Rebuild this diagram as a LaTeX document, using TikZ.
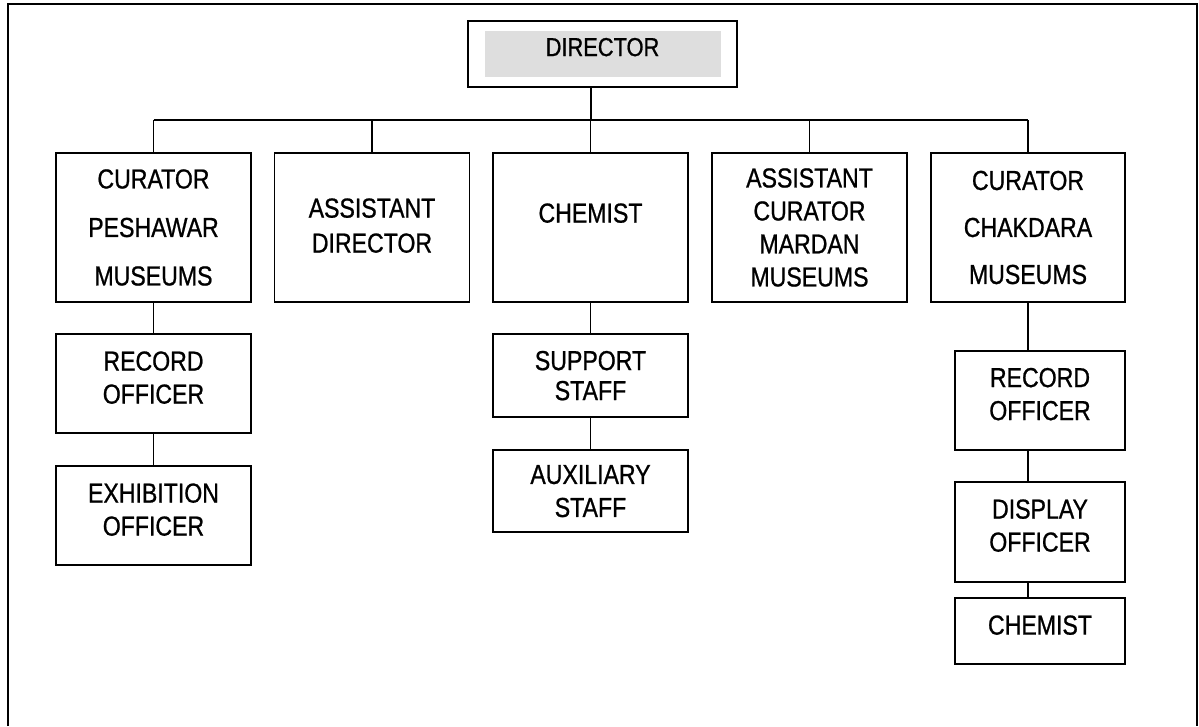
\documentclass[tikz,border=0pt]{standalone}
\usepackage{fontspec}
\setmainfont{Liberation Sans}[FakeStretch=0.84,FakeBold=0.8]
\definecolor{dirgrey}{RGB}{222,222,222}
\tikzset{
  chart/.style={x=1pt,y=-1pt,line width=1.3pt,
    font=\fontsize{27.5}{33}\selectfont},
  post/.style={draw,line width=1.3pt,inner sep=0pt,align=center,
    minimum width=195pt,minimum height=149pt},
  sub/.style={draw,line width=1.3pt,inner sep=0pt,align=center,
    minimum width=195pt,minimum height=99pt,text depth=12pt},
  narrowsub/.style={sub,minimum width=170pt},
  link/.style={line width=1.3pt},
  frame/.style={line width=1.4pt}
}
\begin{document}
\begin{tikzpicture}[chart]
\useasboundingbox (0,0) rectangle (1199,726);
% outer frame, open at the bottom edge
\draw[frame] (8,726) -- (8,4) -- (1197,4) -- (1197,726);

% head of the chart
\node[draw,line width=1.8pt,inner sep=0pt,minimum width=269pt,minimum height=66pt,
      text depth=14pt,font=\fontsize{26}{31}\selectfont,
      path picture={\fill[dirgrey]
        ([xshift=17pt,yshift=10pt]path picture bounding box.south west) rectangle
        ([xshift=-16pt,yshift=-10pt]path picture bounding box.north east);}]
      (dir) at (602.5,54) {DIRECTOR};

% first level
\node[post] (cp)  at (153.5,227.5) {CURATOR\\[15.5pt]PESHAWAR\\[15.5pt]MUSEUMS};
\node[post,text depth=4pt] (ad)  at (372,227.5) {ASSISTANT\\[2pt]DIRECTOR};
\node[post,text depth=29pt] (ch)  at (590.5,227.5) {CHEMIST};
\node[post] (acm) at (809.5,227.5) {ASSISTANT\\CURATOR\\MARDAN\\MUSEUMS};
\node[post,minimum width=194pt] (cc)  at (1028,227.5) {CURATOR\\[14pt]CHAKDARA\\[14pt]MUSEUMS};

% Peshawar branch
\node[sub] (ro1) at (153.5,383.5) {RECORD\\OFFICER};
\node[sub] (eo)  at (153.5,515.5) {EXHIBITION\\OFFICER};

% laboratory branch
\node[sub,minimum height=83pt,text depth=0pt] (ss)  at (590.5,375.5) {SUPPORT\\[-3pt]STAFF};
\node[sub,minimum height=82pt,text depth=0pt] (aux) at (590.5,491) {AUXILIARY\\STAFF};

% Chakdara branch
\node[narrowsub,text depth=13pt] (ro2) at (1040,400.5) {RECORD\\OFFICER};
\node[narrowsub,minimum height=100pt,text depth=13pt] (do)  at (1040,532) {DISPLAY\\OFFICER};
\node[narrowsub,minimum height=66pt,text depth=12pt] (ch2) at (1040,631) {CHEMIST};

% connectors
\coordinate (bus) at (591,120);
\draw[link] (dir.south -| bus) -- (bus);
\draw[link] (cp.north |- bus) -- (cc.north |- bus);
\foreach \n in {cp,ad,ch,acm,cc}
  \draw[link] (\n.north) -- (\n.north |- bus);
\draw[link] (cp.south) -- (ro1.north);
\draw[link] (ro1.south) -- (eo.north);
\draw[link] (ch.south) -- (ss.north);
\draw[link] (ss.south) -- (aux.north);
\draw[link] (cc.south) -- (cc.south |- ro2.north);
\draw[link] (ro2.south -| cc.south) -- (do.north -| cc.south);
\draw[link] (do.south -| cc.south) -- (ch2.north -| cc.south);
\end{tikzpicture}
\end{document}
